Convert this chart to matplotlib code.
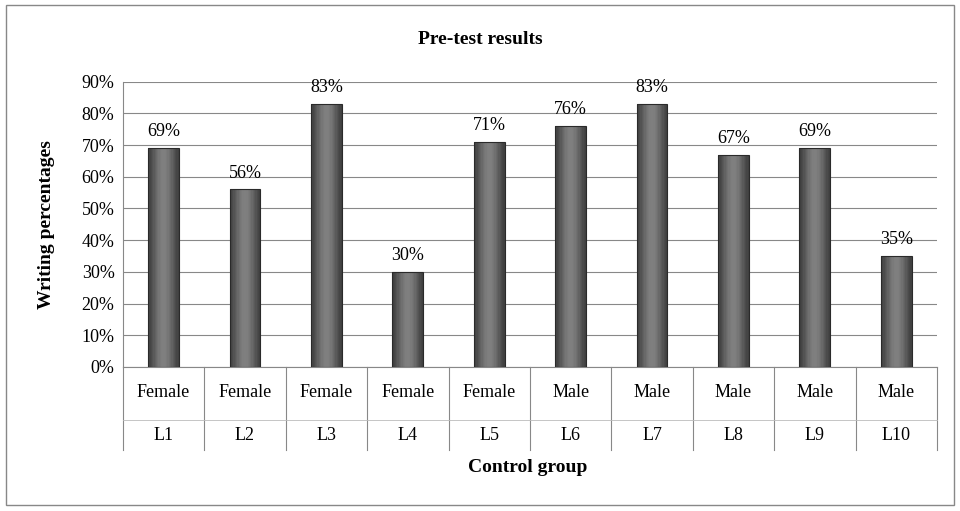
import matplotlib
matplotlib.use("Agg")
import matplotlib.pyplot as plt
import numpy as np
from matplotlib.patches import Rectangle

labels = ["L1","L2","L3","L4","L5","L6","L7","L8","L9","L10"]
genders = ["Female"]*5 + ["Male"]*5
values = [69,56,83,30,71,76,83,67,69,35]

plt.rcParams['font.family'] = ['Liberation Serif']
fig = plt.figure(figsize=(9.6,5.11), dpi=100)
fig.patches.append(Rectangle((0.006,0.012),0.988,0.978, transform=fig.transFigure,
                             fill=False, edgecolor='#888888', lw=1))
ax = fig.add_axes([0.128,0.282,0.848,0.558])
x = np.arange(len(values))
w = 0.38
# cylinder-like gradient
n = 24
for i in range(n):
    t = (i + 0.5) / n
    shade = 0.25 + 0.25*np.sin(np.pi*t)**1.5
    ax.bar(x - w/2 + i*w/n, values, width=w/n, align='edge',
           color=(shade,shade,shade), edgecolor='none', zorder=3)
ax.bar(x, values, width=w, color='none', edgecolor='#2a2a2a', lw=0.8, zorder=4)
for xi, v in zip(x, values):
    ax.text(xi, v + 2.5, f"{v}%", ha='center', va='bottom', fontsize=13)
ax.set_xlim(-0.5, len(values)-0.5)
ax.set_ylim(0, 90)
ax.set_yticks(range(0, 91, 10))
ax.set_yticklabels([f"{v}%" for v in range(0, 91, 10)], fontsize=13)
ax.yaxis.grid(True, color='#888888', lw=0.8, zorder=0)
ax.set_xticks([])
ax.tick_params(axis='y', length=0, pad=6)
for s in ['top','right']:
    ax.spines[s].set_visible(False)
ax.spines['left'].set_color('#888888')
ax.spines['bottom'].set_color('#888888')
for b in np.arange(-0.5, len(values), 1.0):
    ax.plot([b, b], [0, -0.29*90], color='#888888', lw=0.8, clip_on=False)
ax.plot([-0.5, len(values)-0.5], [-0.185*90]*2, color='#bbbbbb', lw=0.6, clip_on=False)
for xi, g, l in zip(x, genders, labels):
    ax.text(xi, -0.091*90, g, ha='center', va='center', fontsize=13)
    ax.text(xi, -0.24*90, l, ha='center', va='center', fontsize=13)
fig.text(0.55, 0.086, "Control group", ha='center', va='center', fontsize=14, fontweight='bold')
fig.text(0.048, 0.56, "Writing percentages", rotation=90, ha='center', va='center',
         fontsize=14, fontweight='bold')
fig.text(0.5, 0.923, "Pre-test results", ha='center', va='center', fontsize=14, fontweight='bold')
fig.savefig("out.png", dpi=100)
